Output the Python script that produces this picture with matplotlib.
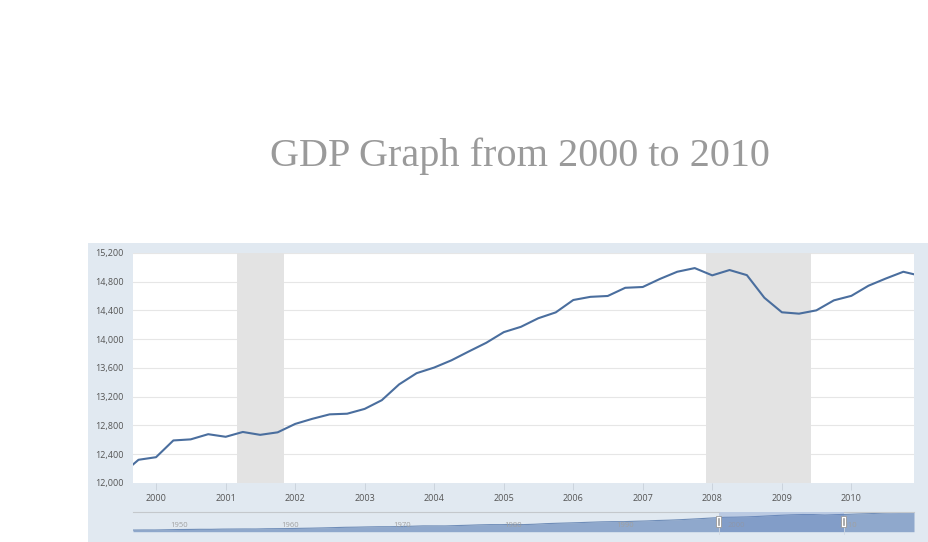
import pandas as pd
import matplotlib
matplotlib.use('Agg')
import matplotlib.pyplot as plt
from matplotlib.patches import Rectangle
import matplotlib.transforms as mtransforms

# real GDP, quarterly, billions of chained dollars
quarters = pd.period_range('1999Q3', '2011Q1', freq='Q').to_timestamp()
gdp = [12115, 12323, 12359, 12592, 12607, 12679, 12643, 12710, 12670, 12705,
       12822, 12893, 12955, 12964, 13031, 13152, 13372, 13528, 13606, 13707,
       13830, 13951, 14099, 14173, 14292, 14374, 14546, 14590, 14602, 14716,
       14727, 14839, 14939, 14990, 14889, 14963, 14892, 14577, 14375, 14356,
       14402, 14541, 14604, 14745, 14845, 14939, 14881]

# annual values for the navigator strip
nav_years = list(range(1947, 2018))
nav_gdp = [1939, 2020, 2009, 2184, 2360, 2456, 2571, 2556, 2739, 2797,
           2856, 2835, 3031, 3108, 3188, 3384, 3530, 3734, 3976, 4238,
           4355, 4569, 4712, 4722, 4877, 5134, 5424, 5397, 5385, 5675,
           5937, 6267, 6466, 6451, 6618, 6491, 6792, 7285, 7594, 7861,
           8133, 8475, 8786, 8955, 8948, 9267, 9521, 9905, 10175, 10561,
           11035, 11526, 12066, 12560, 12682, 12909, 13271, 13774, 14234, 14614,
           14874, 14830, 14419, 14784, 15021, 15355, 15612, 15982, 16397, 16662,
           16903]

recessions = [('2001-03-01', '2001-11-01'), ('2007-12-01', '2009-06-01')]
y_ticks = list(range(12000, 15201, 400))
x_years = list(range(2000, 2011))
nav_label_years = list(range(1950, 2011, 10))

W, H = 929, 542
fig = plt.figure(figsize=(W / 100, H / 100), dpi=100)
fig.patch.set_facecolor('white')

# panel background
bg = fig.add_axes([88 / W, 0, (W - 89) / W, 1 - 243 / H], zorder=-5)
bg.set_facecolor('#e1e9f1')
bg.set_xticks([])
bg.set_yticks([])
for s in bg.spines.values():
    s.set_visible(False)

fig.text(520 / W, 1 - 166 / H, 'GDP Graph from 2000 to 2010', ha='center', va='baseline',
         family='Liberation Serif', fontsize=29, color='#9a9a9a')

ax = fig.add_axes([133 / W, 1 - 483 / H, (914 - 133) / W, (483 - 253) / H])
ax.set_facecolor('white')
for s in ax.spines.values():
    s.set_visible(False)

for a, b in recessions:
    ax.axvspan(pd.Timestamp(a), pd.Timestamp(b), color='#e3e3e3', lw=0, zorder=1)

for y in y_ticks[1:]:
    ax.axhline(y, color='#e6e6e6', lw=0.8, zorder=0.5)

ax.plot(quarters, gdp, color='#4a6e9e', lw=1.5, zorder=3)
ax.set_ylim(12000, 15200)
ax.set_xlim(pd.Timestamp('1999-09-02'), pd.Timestamp('2010-11-26'))

ax.set_yticks(y_ticks)
ax.set_yticklabels([f'{v:,}' for v in y_ticks])
ax.set_xticks([pd.Timestamp(f'{y}-01-01') for y in x_years])
ax.set_xticklabels([str(y) for y in x_years])
ax.tick_params(axis='both', labelsize=6.5, labelcolor='#555555')
ax.tick_params(axis='y', length=0, pad=7)
ax.tick_params(axis='x', length=5, width=0.6, color='#c8d0da', pad=3)
for lab in ax.get_xticklabels() + ax.get_yticklabels():
    lab.set_family('Open Sans')

# navigator
nav = fig.add_axes([133 / W, 1 - 531.7 / H, (914 - 133) / W, 20.2 / H])
nav.set_facecolor('none')
for s in nav.spines.values():
    s.set_visible(False)
nav.fill_between(nav_years, 580, nav_gdp, color='#8fa8cc', lw=0, zorder=1)
nav.plot(nav_years, nav_gdp, color='#6f8db8', lw=0.8, zorder=2)
nav.set_xlim(1947, 2017)
nav.set_ylim(580, 17400)
nav.set_xticks([])
nav.set_yticks([])

sel0, sel1 = 1999.5, 2010.7
nav.axvspan(sel0, sel1, color=(102 / 255, 133 / 255, 194 / 255), alpha=0.3, lw=0, zorder=3)
nav.plot([1947, sel0], [17400, 17400], color='#c4c8cc', lw=0.8, zorder=4, clip_on=False)
nav.plot([sel1, 2017], [17400, 17400], color='#c4c8cc', lw=0.8, zorder=4, clip_on=False)

bt = mtransforms.blended_transform_factory(nav.transData, nav.transAxes)
for yr in nav_label_years:
    nav.text(yr + 0.3, 0.3, str(yr), transform=bt,
             fontsize=5.5, color='#a0a0a0', family='Open Sans', va='center', ha='left', zorder=2.5)

for xh in (sel0, sel1):
    nav.plot([xh, xh], [-0.1, 0.3], transform=bt, color='#d0d8e2', lw=0.6, zorder=4, clip_on=False)
    nav.add_patch(Rectangle((xh - 0.22, 0.22), 0.44, 0.56, transform=bt, fc='white',
                            ec='#999999', lw=0.6, zorder=5))
    nav.plot([xh - 0.06, xh - 0.06], [0.34, 0.66], transform=bt, color='#888888', lw=0.5, zorder=6)
    nav.plot([xh + 0.06, xh + 0.06], [0.34, 0.66], transform=bt, color='#888888', lw=0.5, zorder=6)

fig.savefig('out.png', dpi=100)
